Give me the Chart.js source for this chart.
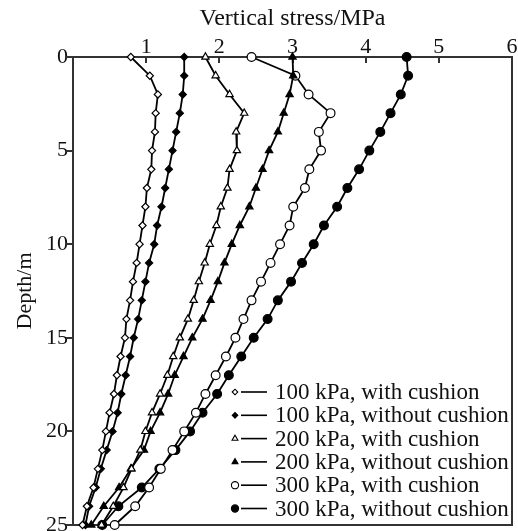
<!DOCTYPE html>
<html>
<head>
<meta charset="utf-8">
<script src="https://cdn.jsdelivr.net/npm/chart.js@4.4.0/dist/chart.umd.min.js"></script>
<style>
  html, body { margin: 0; padding: 0; background: #fff; }
</style>
</head>
<body>
<canvas id="stress-chart" width="518" height="531"></canvas>
<script>
// depth below ground surface (m)
const depths = [0, 1, 2, 3, 4, 5, 6, 7, 8, 9, 10, 11, 12, 13, 14, 15, 16, 17, 18, 19, 20, 21, 22, 23, 24, 25];

// vertical stress (MPa) at each depth
const with100 = [0.79, 1.05, 1.16, 1.13, 1.12, 1.08, 1.07, 1.01, 0.99, 0.95, 0.91, 0.87, 0.82, 0.78, 0.73, 0.71, 0.65, 0.60, 0.56, 0.50, 0.45, 0.40, 0.34, 0.28, 0.19, 0.13];
const without100 = [1.52, 1.52, 1.50, 1.46, 1.41, 1.36, 1.31, 1.26, 1.21, 1.15, 1.11, 1.04, 0.99, 0.94, 0.89, 0.83, 0.78, 0.72, 0.66, 0.61, 0.54, 0.46, 0.38, 0.31, 0.22, 0.17];
const with200 = [1.81, 1.95, 2.14, 2.34, 2.23, 2.24, 2.14, 2.11, 2.02, 1.96, 1.87, 1.80, 1.72, 1.65, 1.57, 1.46, 1.37, 1.29, 1.19, 1.08, 0.99, 0.92, 0.80, 0.69, 0.55, 0.39];
const without200 = [3.00, 3.01, 2.96, 2.88, 2.80, 2.68, 2.59, 2.50, 2.41, 2.28, 2.17, 2.07, 1.98, 1.88, 1.77, 1.63, 1.51, 1.39, 1.30, 1.19, 1.06, 0.97, 0.79, 0.63, 0.42, 0.25];
const with300 = [2.44, 3.04, 3.22, 3.52, 3.36, 3.39, 3.23, 3.17, 3.01, 2.96, 2.83, 2.70, 2.57, 2.44, 2.33, 2.22, 2.09, 1.95, 1.81, 1.68, 1.52, 1.36, 1.20, 1.04, 0.85, 0.57];
const without300 = [4.56, 4.58, 4.48, 4.34, 4.20, 4.05, 3.91, 3.75, 3.61, 3.43, 3.29, 3.13, 2.98, 2.80, 2.66, 2.47, 2.30, 2.13, 1.97, 1.77, 1.60, 1.40, 1.18, 0.94, 0.62, 0.40];

const seriesNames = [
  '100 kPa, with cushion',
  '100 kPa, without cushion',
  '200 kPa, with cushion',
  '200 kPa, without cushion',
  '300 kPa, with cushion',
  '300 kPa, without cushion'
];
const seriesValues = [with100, without100, with200, without200, with300, without300];

const stressTicks = [0, 1, 2, 3, 4, 5, 6];
const depthTicks = [0, 5, 10, 15, 20, 25];

const FONT = '"Liberation Serif", "Times New Roman", serif';
const AXIS_COLOR = '#333';

const markers = [
  { pointStyle: 'rectRot', radius: 3.6, fill: '#fff' },
  { pointStyle: 'rectRot', radius: 3.6, fill: '#000' },
  { pointStyle: 'triangle', radius: 4.2, fill: '#fff' },
  { pointStyle: 'triangle', radius: 4.2, fill: '#000' },
  { pointStyle: 'circle', radius: 4.4, fill: '#fff' },
  { pointStyle: 'circle', radius: 4.4, fill: '#000' }
];

const datasets = seriesValues.map((vals, i) => ({
  label: seriesNames[i],
  data: vals.map((v, k) => ({ x: v, y: depths[k] })),
  showLine: true,
  clip: false,
  borderColor: '#000',
  borderWidth: 1.8,
  pointStyle: markers[i].pointStyle,
  pointRadius: markers[i].radius,
  pointBackgroundColor: markers[i].fill,
  pointBorderColor: '#000',
  pointBorderWidth: 1.2
}));

// box around the plot, drawn before the series so markers sit on top
const plotBox = {
  id: 'plotBox',
  beforeDatasetsDraw(chart) {
    const ctx = chart.ctx;
    const a = chart.chartArea;
    const xs = chart.scales.x;
    const ys = chart.scales.y;
    const w = 2;
    const l = Math.floor(a.left) - 1;
    const t = Math.floor(a.top) - 1;
    const r = Math.ceil(a.right) - 1;
    const b = Math.ceil(a.bottom) - 1;
    ctx.save();
    ctx.fillStyle = AXIS_COLOR;
    ctx.fillRect(l, t, r - l + w, w);
    ctx.fillRect(l, b, r - l + w, w);
    ctx.fillRect(l, t, w, b - t + w);
    ctx.fillRect(r, t, w, b - t + w);
    // inward marks along the top axis
    stressTicks.forEach(v => {
      ctx.fillRect(Math.round(xs.getPixelForValue(v)) - 1, t, w, 7);
    });
    // outward marks on the depth axis
    depthTicks.forEach(v => {
      ctx.fillRect(l - 6, Math.round(ys.getPixelForValue(v)) - 1, 6, w);
    });
    ctx.restore();
  }
};

// legend: marker, short line, label
const lineLegend = {
  id: 'lineLegend',
  afterDraw(chart) {
    const ctx = chart.ctx;
    const a = chart.chartArea;
    const rowH = 23.3;
    const firstRow = a.bottom - 133;
    const markX = a.right - 277;
    ctx.save();
    ctx.font = '23px ' + FONT;
    ctx.textBaseline = 'middle';
    ctx.textAlign = 'left';
    seriesNames.forEach((name, i) => {
      const cy = firstRow + i * rowH;
      ctx.fillStyle = '#000';
      ctx.fillRect(markX + 6, cy - 0.8, 26, 1.6);
      ctx.fillStyle = markers[i].fill;
      ctx.strokeStyle = '#000';
      ctx.lineWidth = 1.1;
      Chart.helpers.drawPoint(ctx, {
        pointStyle: markers[i].pointStyle,
        radius: markers[i].radius - 0.8,
        borderWidth: 1.1,
        rotation: 0
      }, markX, cy);
      ctx.fillStyle = '#111';
      ctx.fillText(name, markX + 40, cy + 1);
    });
    ctx.restore();
  }
};

new Chart(document.getElementById('stress-chart'), {
  type: 'scatter',
  data: { datasets },
  options: {
    responsive: false,
    animation: false,
    layout: { padding: { left: 0, top: 0, right: 6, bottom: 6 } },
    plugins: { legend: { display: false }, tooltip: { enabled: false } },
    scales: {
      x: {
        type: 'linear',
        position: 'top',
        min: 0,
        max: 6,
        afterBuildTicks: s => { s.ticks = stressTicks.map(v => ({ value: v })); },
        grid: { display: false, drawTicks: false },
        border: { display: false },
        ticks: {
          color: '#111',
          font: { family: FONT, size: 22 },
          padding: -3,
          maxRotation: 0,
          callback: v => (v === 0 ? '' : String(v))
        },
        title: {
          display: true,
          text: 'Vertical stress/MPa',
          color: '#111',
          font: { family: FONT, size: 24 },
          padding: { top: 4, bottom: 0 }
        },
        afterFit: s => { s.height = 57; s.paddingLeft = 0; s.paddingRight = 0; }
      },
      y: {
        type: 'linear',
        reverse: true,
        min: 0,
        max: 25,
        afterBuildTicks: s => { s.ticks = depthTicks.map(v => ({ value: v })); },
        grid: { display: false, drawTicks: true, tickLength: 6 },
        border: { display: false },
        ticks: {
          color: '#111',
          font: { family: FONT, size: 22 },
          padding: -1
        },
        title: {
          display: true,
          text: 'Depth/m',
          color: '#111',
          font: { family: FONT, size: 22 },
          padding: { top: 12, bottom: 0 }
        },
        afterFit: s => { s.width = 73; s.paddingTop = 0; s.paddingBottom = 0; }
      }
    }
  },
  plugins: [plotBox, lineLegend]
});
</script>
</body>
</html>
